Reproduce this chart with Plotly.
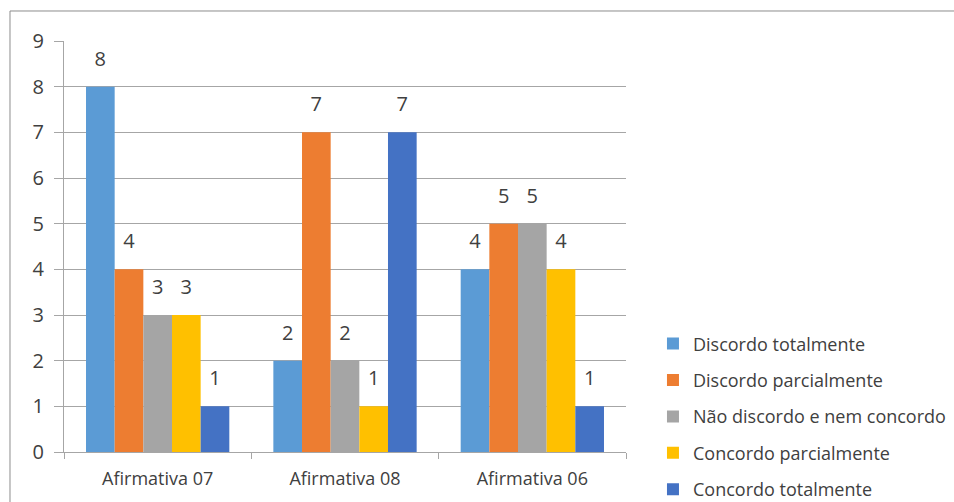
import plotly.graph_objects as go

categories = ["Afirmativa 07", "Afirmativa 08", "Afirmativa 06"]
series_names = [
    "Discordo totalmente",
    "Discordo parcialmente",
    "Não discordo e nem concordo",
    "Concordo parcialmente",
    "Concordo totalmente",
]
discordo_totalmente = [8, 2, 4]
discordo_parcialmente = [4, 7, 5]
nao_discordo_nem_concordo = [3, 2, 5]
concordo_parcialmente = [3, 1, 4]
concordo_totalmente = [1, 7, 1]
values = [discordo_totalmente, discordo_parcialmente, nao_discordo_nem_concordo,
          concordo_parcialmente, concordo_totalmente]
colors = ["#5B9BD5", "#ED7D31", "#A5A5A5", "#FFC000", "#4472C4"]
y_ticks = list(range(0, 10))

FONT = "Open Sans"
TXT = "#404040"

fig = go.Figure()
for i, (name, vals, col) in enumerate(zip(series_names, values, colors)):
    fig.add_trace(go.Bar(
        x=categories, y=vals, name=name, marker=dict(color=col, line=dict(width=0)),
        offsetgroup=str(i), alignmentgroup="a", legendgroup=str(i),
    ))
for i, vals in enumerate(values):
    fig.add_trace(go.Scatter(
        x=categories, y=vals, mode="markers+text", text=[str(v) for v in vals],
        textposition="top center", textfont=dict(family=FONT, size=20, color=TXT),
        marker=dict(size=24, opacity=0), showlegend=False, hoverinfo="skip",
        offsetgroup=str(i), alignmentgroup="s", cliponaxis=False,
    ))

fig.update_layout(
    width=954, height=502,
    margin=dict(l=64, r=328, t=41, b=50, autoexpand=False),
    paper_bgcolor="white", plot_bgcolor="white",
    barmode="group", bargap=0.235, bargroupgap=0,
    scattermode="group", scattergap=0.235,
    font=dict(family=FONT, color=TXT),
    showlegend=True,
    legend=dict(x=1.048, xanchor="left", y=0.308, yanchor="top",
                font=dict(family=FONT, size=18, color=TXT),
                tracegroupgap=10, itemwidth=30, bgcolor="rgba(0,0,0,0)"),
    shapes=[dict(type="rect", xref="paper", yref="paper", x0=-0.0961, x1=2, y0=-1, y1=1.073,
                 line=dict(color="#8C8C8C", width=1), fillcolor="rgba(0,0,0,0)", layer="below")],
)
fig.update_yaxes(range=[0, 9], tickvals=y_ticks, showgrid=True, gridcolor="#A6A6A6", gridwidth=1,
                 showline=True, linecolor="#A6A6A6", ticks="outside", ticklen=9, tickcolor="#A6A6A6",
                 tickfont=dict(family=FONT, size=20, color=TXT), ticklabelstandoff=6, zeroline=False,
                 fixedrange=True, automargin=False)
fig.update_xaxes(showline=True, linecolor="#A6A6A6", ticks="outside", tickson="boundaries", ticklen=6,
                 tickcolor="#A6A6A6", tickfont=dict(family=FONT, size=18, color=TXT), ticklabelstandoff=10,
                 showgrid=False, automargin=False)

fig.write_html("out.html")
